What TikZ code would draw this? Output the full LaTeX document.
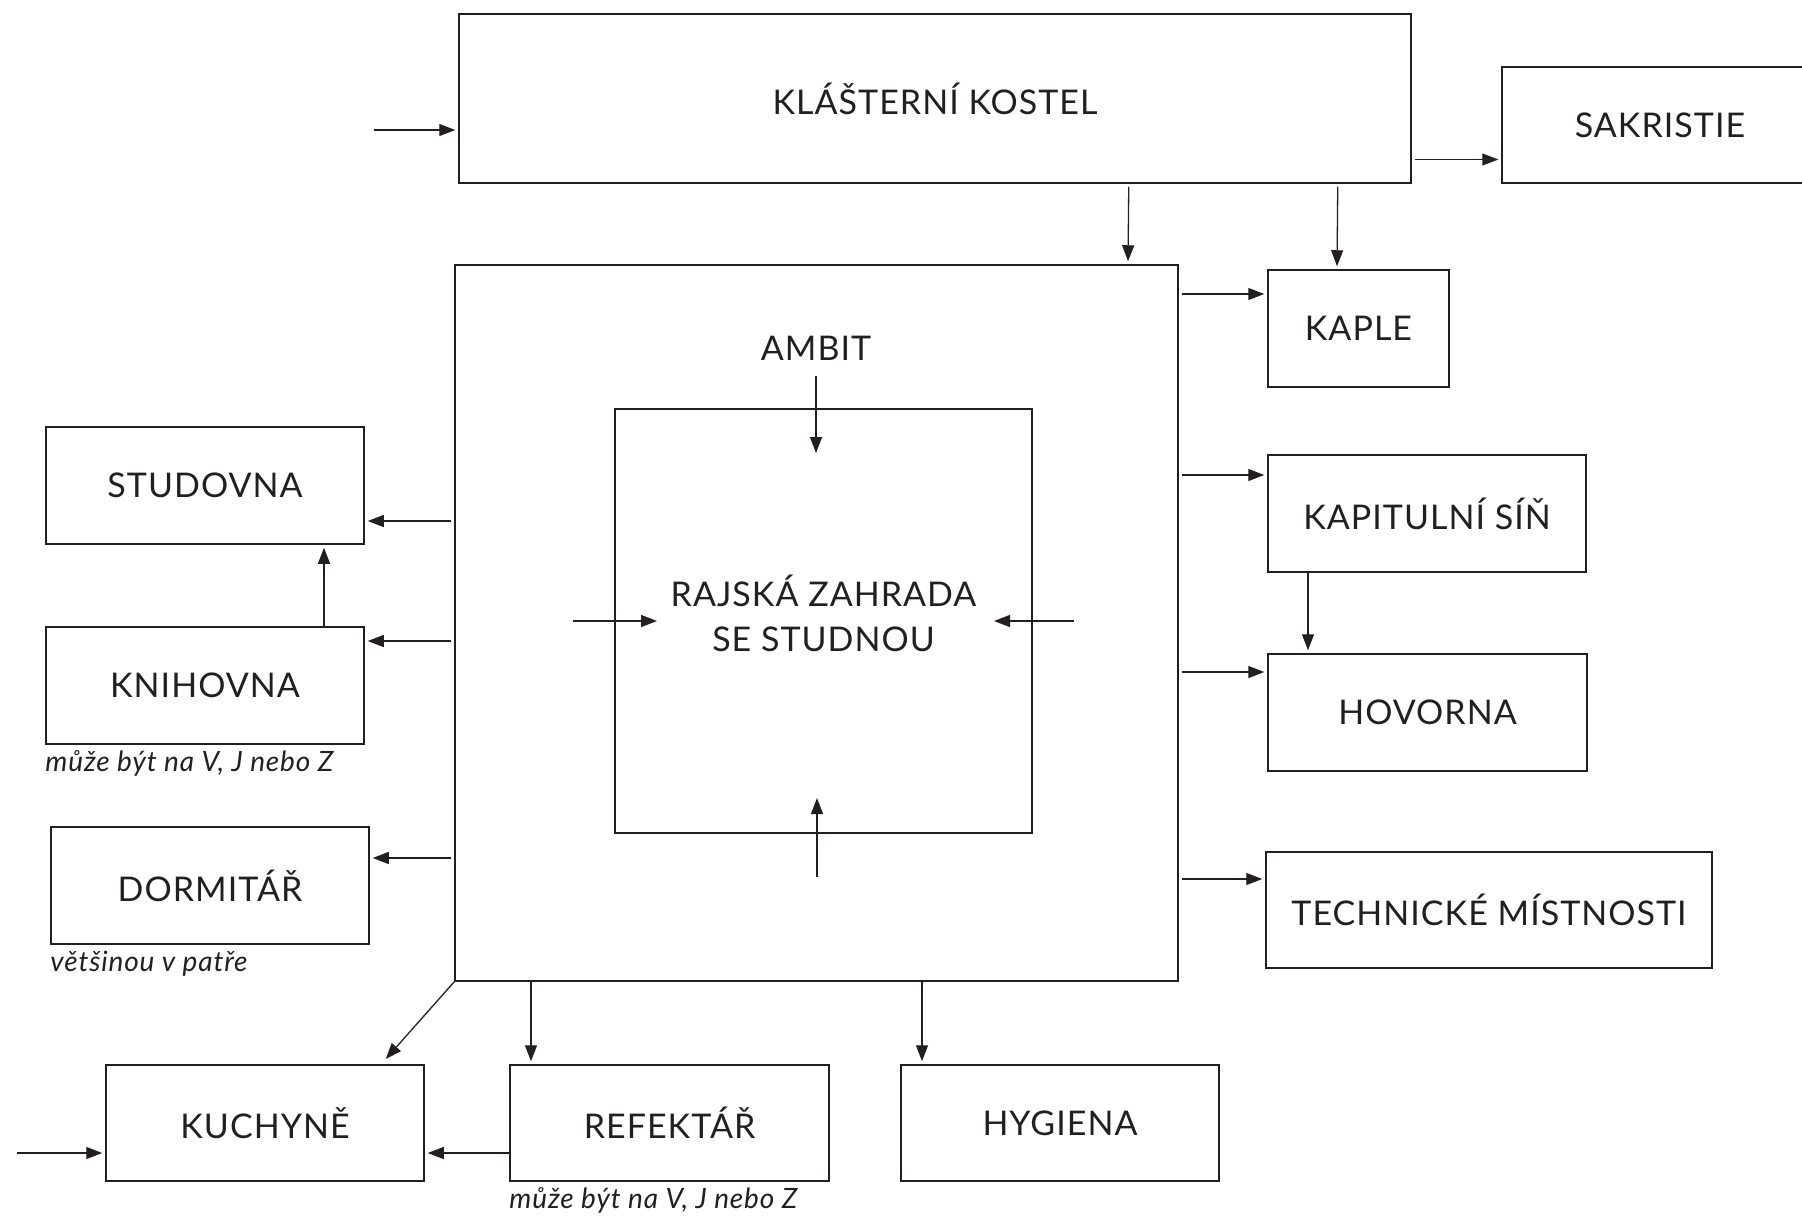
\documentclass[tikz,border=0pt]{standalone}
\usepackage{fontspec}
\setmainfont{Lato}[LetterSpace=3]
\usetikzlibrary{arrows.meta, calc, positioning}

\definecolor{ink}{HTML}{231F20}

\tikzset{
  room/.style={draw=ink, line width=1.5pt, inner sep=0pt, text=ink,
    font=\fontsize{34}{45}\selectfont, align=center},
  note/.style={inner sep=0pt, text=ink, anchor=north west,
    font=\fontsize{28}{32}\selectfont\itshape},
  arr/.style={draw=ink, line width=1.3pt, shorten >=3pt,
    -{Triangle[length=16pt, width=12pt]}}
}

\begin{document}
\begin{tikzpicture}[x=1pt, y=-1pt]
  \useasboundingbox (0,0) rectangle (1802,1216);

  % kostel a sakristie
  \node[room, minimum width=952, minimum height=169] (kostel)    at (935,98.5)   {KLÁŠTERNÍ KOSTEL};
  \node[room, minimum width=316, minimum height=116] (sakristie) at (1660,125)   {SAKRISTIE};

  % ambit s rajskou zahradou
  \node[room, minimum width=723, minimum height=716] (ambit)     at (816.5,623)  {};
  \node[room, minimum width=417, minimum height=424] (rajska)    at (823.5,621)  {};
  \node[text=ink, font=\fontsize{34}{45}\selectfont, align=center] (rajskalabel) at (823.5,613) {RAJSKÁ ZAHRADA\\SE STUDNOU};
  \node[text=ink, font=\fontsize{34}{45}\selectfont] (ambitlabel) at (816,348) {AMBIT};

  % vychodni kridlo
  \node[room, minimum width=181, minimum height=117] (kaple)     at (1358.5,328.5) {KAPLE};
  \node[room, minimum width=318, minimum height=117] (kapitulni) at (1427,513.5)   {KAPITULNÍ SÍŇ};
  \node[room, minimum width=319, minimum height=117] (hovorna)   at (1427.5,712.5) {HOVORNA};
  \node[room, minimum width=446, minimum height=116] (technicke) at (1489,910)     {TECHNICKÉ MÍSTNOSTI};

  % zapadni kridlo
  \node[room, minimum width=318, minimum height=117] (studovna)  at (205,485.5)  {STUDOVNA};
  \node[room, minimum width=318, minimum height=117] (knihovna)  at (205,685.5)  {KNIHOVNA};
  \node[room, minimum width=318, minimum height=117] (dormitar)  at (210,885.5)  {DORMITÁŘ};
  \node[note] (knihnote) at (knihovna.south west) [yshift=-6pt] {může být na V, J nebo Z};
  \node[note] (dormnote) at (dormitar.south west) [yshift=-6pt] {většinou v patře};

  % jizni kridlo
  \node[room, minimum width=318, minimum height=116] (kuchyne)   at (265,1123)   {KUCHYNĚ};
  \node[room, minimum width=319, minimum height=116] (refektar)  at (669.5,1123) {REFEKTÁŘ};
  \node[room, minimum width=318, minimum height=116] (hygiena)   at (1060,1123)  {HYGIENA};
  \node[note] (refnote) at (refektar.south west) [yshift=-6pt] {může být na V, J nebo Z};

  % vstupy zvenku
  \coordinate (kin) at (374,130);
  \coordinate (uin) at (17,1153);
  \draw[arr] (kin) -- (kin -| kostel.west);
  \draw[arr] (uin) -- (uin -| kuchyne.west);

  % z kostela
  \coordinate (ks) at ($(kostel.east)+(3,61)$);
  \draw[arr] (ks) -- (ks -| sakristie.west);
  \draw[arr] ($(kostel.south east)+(-283,3)$) -- (ambit.north -| 1128,0);
  \draw[arr] ($(kostel.south east)+(-74,3)$) -- (kaple.north -| 1337,0);

  % z ambitu ven
  \foreach \n/\y in {kaple/294, kapitulni/475, hovorna/672, technicke/879}
    \draw[arr] (ambit.east |- 0,\y) ++(3,0) -- (\n.west |- 0,\y);
  \foreach \n/\y in {studovna/521, knihovna/641, dormitar/858}
    \draw[arr] (ambit.west |- 0,\y) ++(-3,0) -- (\n.east |- 0,\y);
  \draw[arr] (ambit.south west) -- ($(kuchyne.north east)+(-41,-3)$);
  \draw[arr] (ambit.south -| 531,0) -- (refektar.north -| 531,0);
  \draw[arr] (ambit.south -| 922,0) -- (hygiena.north -| 922,0);

  % mezi mistnostmi
  \draw[arr] (knihovna.north -| 324,0) -- (studovna.south -| 324,0);
  \draw[arr] (kapitulni.south -| 1308,0) -- (hovorna.north -| 1308,0);
  \draw[arr] (refektar.west |- 0,1153) -- (kuchyne.east |- 0,1153);

  % do rajske zahrady
  \coordinate (gn) at (816,376);
  \coordinate (gw) at (573,621);
  \coordinate (ge) at (1074,621);
  \coordinate (gs) at (817,877);
  \draw[arr] (gn) -- ++(0,80);
  \draw[arr] (gw) -- ++(87,0);
  \draw[arr] (ge) -- ++(-83,0);
  \draw[arr] (gs) -- ++(0,-82);
\end{tikzpicture}
\end{document}
